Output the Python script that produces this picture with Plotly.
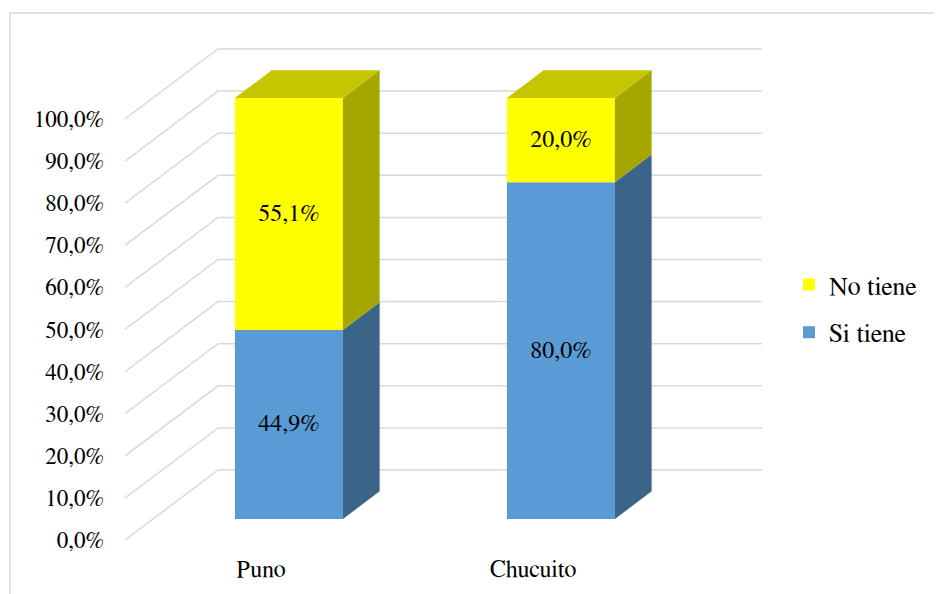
import plotly.graph_objects as go

# ---- data ----
categories = ["Puno", "Chucuito"]
si_tiene = [44.9, 80.0]
no_tiene = [55.1, 20.0]
y_ticks = [0, 10, 20, 30, 40, 50, 60, 70, 80, 90, 100]
y_tick_labels = [f"{v:.1f}".replace(".", ",") + "%" for v in y_ticks]

series = [("Si tiene", si_tiene, "#5B9BD5", "#3B6489", "#4A80B0"),
          ("No tiene", no_tiene, "#FFFF00", "#A6A600", "#C6C600")]

# ---- geometry (pixel-like units on x, percent units on y) ----
OFF = 8  # page body margin
W, H = 942, 594
ML = 125 - OFF
PLOT_BOTTOM = 552 - OFF
MB = H - PLOT_BOTTOM
PX_PER_UNIT = 4.21
FRONT_ZERO_PX = 540 - OFF
plot_h = PLOT_BOTTOM
y_lo = -(PLOT_BOTTOM - FRONT_ZERO_PX) / PX_PER_UNIT
y_hi = FRONT_ZERO_PX / PX_PER_UNIT
DX = 93.0                 # depth x offset in px
DV = 70.0 / PX_PER_UNIT   # depth offset in y-units
F0, F1 = 0.30, 0.695      # bar front / back depth fractions
X0, X1 = 125.0 - OFF, 669.0 - OFF   # front-plane x extent
catw = (X1 - X0) / len(categories)
cat_x = [X0 + (i + 0.5) * catw for i in range(len(categories))]
BAR_W = 108.0
FONT = "FreeSerif, Liberation Serif, Noto Serif, serif"
FS = 23

fig = go.Figure()

# gridlines in perspective, drawn below traces
shapes = []
for v in y_ticks:
    shapes.append(dict(type="path", xref="x", yref="y", layer="below",
                       path=f"M{X0},{v} L{X0 + DX},{v + DV} L{X1 + DX},{v + DV}",
                       line=dict(color="#D9D9D9", width=1.5)))

# side faces
cum = [0.0] * len(categories)
bases = []
for name, vals, front, side, top in series:
    b = list(cum)
    bases.append(b)
    for i, cx in enumerate(cat_x):
        xr = cx + F0 * DX + BAR_W / 2
        ddx = (F1 - F0) * DX
        lo, hi = b[i], b[i] + vals[i]
        fig.add_trace(go.Scatter(
            x=[xr, xr + ddx, xr + ddx, xr, xr],
            y=[lo + F0 * DV, lo + F1 * DV, hi + F1 * DV, hi + F0 * DV, lo + F0 * DV],
            mode="lines", fill="toself", fillcolor=side, line=dict(width=0, color=side),
            hoverinfo="skip", showlegend=False))
    cum = [c + v for c, v in zip(cum, vals)]

# top face of the stack
name, vals, front, side, top = series[-1]
for i, cx in enumerate(cat_x):
    xr = cx + F0 * DX + BAR_W / 2
    xl = cx + F0 * DX - BAR_W / 2
    ddx = (F1 - F0) * DX
    t = cum[i]
    fig.add_trace(go.Scatter(
        x=[xl, xr, xr + ddx, xl + ddx, xl],
        y=[t + F0 * DV, t + F0 * DV, t + F1 * DV, t + F1 * DV, t + F0 * DV],
        mode="lines", fill="toself", fillcolor=top, line=dict(width=0, color=top),
        hoverinfo="skip", showlegend=False))

# front faces as bars
ranks = {"No tiene": 1, "Si tiene": 2}
for (name, vals, front, side, top), b in zip(series, bases):
    fig.add_trace(go.Bar(
        name=name, x=[cx + F0 * DX for cx in cat_x], y=vals,
        base=[bb + F0 * DV for bb in b], width=BAR_W,
        marker=dict(color=front, line=dict(width=0)),
        text=[f"{v:.1f}".replace(".", ",") + "%" for v in vals],
        textposition="inside", insidetextanchor="middle", textangle=0,
        textfont=dict(family=FONT, size=24, color="black"),
        legendgroup=name, legendrank=ranks[name]))

shapes.append(dict(type="rect", xref="paper", yref="paper",
                   x0=(10 - OFF - ML) / (W - ML), x1=(960 - ML) / (W - ML),
                   y0=(plot_h - 620) / plot_h, y1=(plot_h - (13 - OFF)) / plot_h,
                   line=dict(color="#D9D9D9", width=1.5), layer="below"))

fig.update_layout(
    width=W, height=H, margin=dict(l=ML, r=0, t=0, b=MB),
    paper_bgcolor="white", plot_bgcolor="white",
    barmode="overlay",
    font=dict(family=FONT, size=FS, color="black"),
    xaxis=dict(range=[ML, W], showgrid=False, zeroline=False, showline=False,
               tickvals=cat_x, ticktext=categories, ticks="", fixedrange=True,
               tickfont=dict(family=FONT, size=24)),
    yaxis=dict(range=[y_lo, y_hi], showgrid=False, zeroline=False, showline=False,
               tickvals=y_ticks, ticktext=y_tick_labels, ticks="",
               ticklabelstandoff=20, fixedrange=True,
               tickfont=dict(family=FONT, size=FS)),
    legend=dict(x=(781 - ML) / (W - ML), xanchor="left",
                y=(plot_h - 253) / plot_h, yanchor="top",
                tracegroupgap=11, font=dict(family=FONT, size=26),
                bgcolor="rgba(0,0,0,0)"),
    shapes=shapes,
)

fig.write_html("out.html")
